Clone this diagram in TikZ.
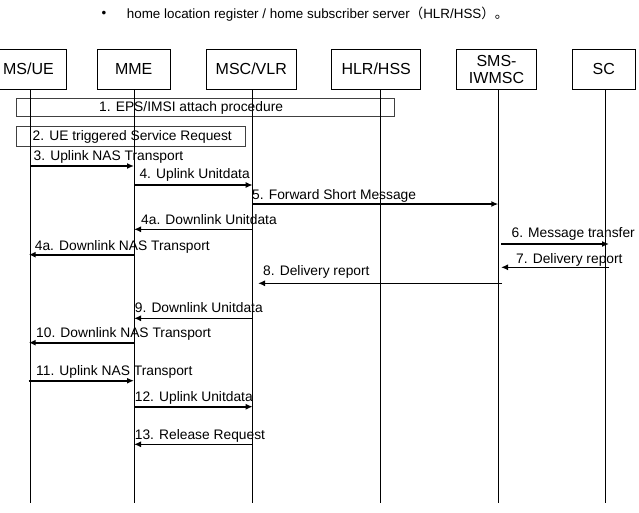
\documentclass[tikz,border=0pt]{standalone}
\usepackage{fontspec}
\setmainfont{Liberation Sans}
\newfontfamily\cjk{Noto Sans CJK SC}
\usetikzlibrary{arrows.meta}

\begin{document}
\begin{tikzpicture}[x=1pt, y=-1pt, every node/.style={font=\fontsize{13.8}{15}\selectfont, inner sep=0pt},
  actor/.style={draw, line width=0.8pt, minimum height=39.5pt, font=\fontsize{16}{16.5}\selectfont, align=center},
  lifeline/.style={line width=0.8pt},
  phase/.style={draw=black!75, line width=0.9pt},
  msg/.style={line width=1.6pt, -{Latex[length=7pt,width=6pt]}},
  lbl/.style={anchor=west, text height=10pt, text depth=3pt}]
\useasboundingbox (0,0) rectangle (639,512);

\node[font=\fontsize{13.4}{15}\selectfont] (dot) at (104,14) {•};
\node[anchor=west, font=\fontsize{13.4}{15}\selectfont] (note) at (126.7,14) {home location register / home subscriber server{\cjk （}HLR/HSS{\cjk ）。}};

\node[actor, minimum width=75pt] (ue) at (28.5,69.25) {MS/UE};
\node[actor, minimum width=72.7pt] (mme) at (133.7,69.25) {MME};
\node[actor, minimum width=89.3pt] (msc) at (251.3,69.25) {MSC/VLR};
\node[actor, minimum width=89pt] (hlr) at (376.2,69.25) {HLR/HSS};
\node[actor, minimum width=80.4pt] (sms) at (496.5,69.25) {SMS-\\IWMSC};
\node[actor, minimum width=62.7pt] (sc) at (603.7,69.25) {SC};

% procedures
\draw[phase] (16.7,98.3) rectangle (394.3,116);
\node[lbl] (p1) at (99,107.5) {1. EPS/IMSI attach procedure};
\draw[phase] (16.7,126.7) rectangle (245,146.7);
\node[lbl] (p2) at (32.5,136.7) {2. UE triggered Service Request};

% lifelines
\coordinate (ue-l) at (30.7,89.25); \coordinate (mme-l) at (134,89.25); \coordinate (msc-l) at (252.7,89.25);
\coordinate (hlr-l) at (380.7,89.25); \coordinate (sms-l) at (498.3,89.25); \coordinate (sc-l) at (605,89.25);
\draw[lifeline] (ue-l)--++(0,414); \draw[lifeline] (mme-l)--++(0,414); \draw[lifeline] (msc-l)--++(0,414);
\draw[lifeline] (hlr-l)--++(0,414); \draw[lifeline] (sms-l)--++(0,414); \draw[lifeline] (sc-l)--++(0,414);

% messages
\draw[msg] (ue-l |- 0,166)--(mme-l |- 0,166); \node[lbl] (m3) at (33.5,156.7) {3. Uplink NAS Transport};
\draw[msg] (mme-l |- 0,185)--(msc-l |- 0,185); \node[lbl] (m4) at (139.3,175) {4. Uplink Unitdata};
\draw[msg] (msc-l |- 0,204)--(sms-l |- 0,204); \node[lbl] (m5) at (252,195.7) {5. Forward Short Message};
\draw[msg] (msc-l |- 0,229.3)--(mme-l |- 0,229.3); \node[lbl] (m4a) at (141,221) {4a. Downlink Unitdata};
\draw[msg, shorten <=2.7pt, shorten >=-4pt] (sms-l |- 0,244)--(sc-l |- 0,244); \node[lbl] (m6) at (511.4,234) {6. Message transfer};
\draw[msg, shorten >=-2pt] (mme-l |- 0,254.7)--(ue-l |- 0,254.7); \node[lbl] (m4b) at (34.7,246.7) {4a. Downlink NAS Transport};
\draw[msg, shorten <=-4pt, shorten >=2.7pt] (sc-l |- 0,267.3)--(sms-l |- 0,267.3); \node[lbl] (m7) at (516,260.3) {7. Delivery report};
\draw[msg, shorten <=-3.7pt, shorten >=5.3pt] (sms-l |- 0,283.3)--(msc-l |- 0,283.3); \node[lbl] (m8) at (263,272.3) {8. Delivery report};
\draw[msg] (msc-l |- 0,318.3)--(mme-l |- 0,318.3); \node[lbl] (m9) at (134.7,309.3) {9. Downlink Unitdata};
\draw[msg, shorten >=-2pt] (mme-l |- 0,342.7)--(ue-l |- 0,342.7); \node[lbl] (m10) at (36,334.3) {10. Downlink NAS Transport};
\draw[msg, shorten <=-2pt] (ue-l |- 0,380.7)--(mme-l |- 0,380.7); \node[lbl] (m11) at (36,372.3) {11. Uplink NAS Transport};
\draw[msg] (mme-l |- 0,406.7)--(msc-l |- 0,406.7); \node[lbl] (m12) at (134.7,397.7) {12. Uplink Unitdata};
\draw[msg] (msc-l |- 0,444.3)--(mme-l |- 0,444.3); \node[lbl] (m13) at (134.7,435.7) {13. Release Request};
\end{tikzpicture}
\end{document}
